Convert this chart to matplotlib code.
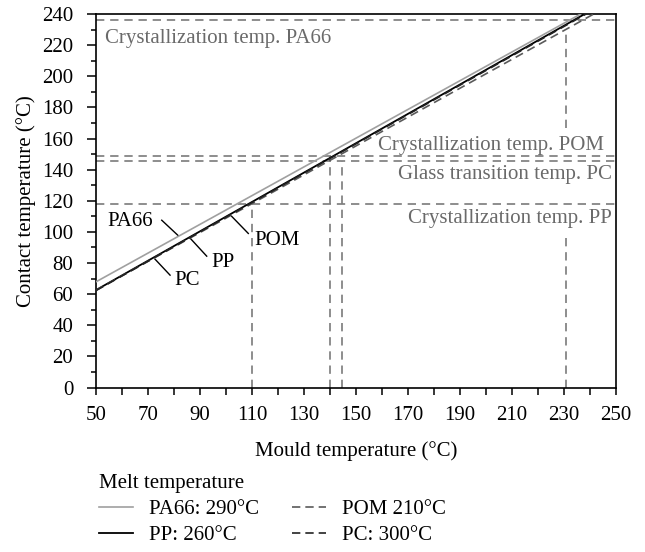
import matplotlib
matplotlib.use("Agg")
import matplotlib.pyplot as plt
from matplotlib.ticker import MultipleLocator

plt.rcParams['font.family'] = ['Liberation Serif', 'DejaVu Serif']
plt.rcParams['font.size'] = 15

# mould temperature end points and contact temperature of each material
mould = [50, 250]
pa66 = [67.9, 252.5]
pp = [62.6, 251.3]
pom = [62.5, 247.9]
pc = [62.3, 250.8]

xticks = [50, 70, 90, 110, 130, 150, 170, 190, 210, 230, 250]
yticks = [0, 20, 40, 60, 80, 100, 120, 140, 160, 180, 200, 220, 240]

# reference temperatures (horizontal dashed lines)
ref_temps = [236, 148.5, 145.5, 118]
ref_labels = ["Crystallization temp. PA66", "Crystallization temp. POM",
              "Glass transition temp. PC", "Crystallization temp. PP"]
ref_label_x = [53.5, 245.5, 248.5, 248.5]
ref_label_y = [224.5, 155.5, 137, 108.5]
ref_label_ha = ["left", "right", "right", "right"]

# vertical dashed segments: x, y from, y to
vert_x = [110, 140, 144.5, 231, 231]
vert_y0 = [0, 0, 0, 0, 167]
vert_y1 = [118, 148.5, 145.5, 99, 229]

# curve labels: text, text position, leader start, leader end
curve_names = ["PA66", "PP", "POM", "PC"]
curve_text_xy = [(63, 106.5), (99, 80.5), (119.5, 94.5), (85, 69)]
leader_from = [(75.3, 107.5), (92.6, 84.4), (108.6, 99.0), (78.5, 72.2)]
leader_to = [(81.7, 97.5), (86.2, 96.0), (102.2, 110.0), (72.7, 82.5)]

legend_labels = ["PA66: 290°C", "PP: 260°C", "POM 210°C", "PC: 300°C"]

fig = plt.figure(figsize=(6.45, 5.52), dpi=100)
ax = fig.add_axes([0.1488, 0.298, 0.806, 0.6766])

ref_col = "#7a7a7a"
for t in ref_temps:
    ax.axhline(t, color=ref_col, lw=1.2, ls=(0, (5, 3.5)), zorder=1)
for x, y0, y1 in zip(vert_x, vert_y0, vert_y1):
    ax.plot([x, x], [y0, y1], color=ref_col, lw=1.2, ls=(0, (5, 3.5)), zorder=1)

for lab, x, y, ha in zip(ref_labels, ref_label_x, ref_label_y, ref_label_ha):
    ax.text(x, y, lab, ha=ha, va="center", color="#6a6a6a")

l1, = ax.plot(mould, pa66, color="#a0a0a0", lw=1.2, zorder=3)
l2, = ax.plot(mould, pp, color="black", lw=1.3, zorder=3)
l3, = ax.plot(mould, pom, color="#5a5a5a", lw=1.2, ls=(0, (5, 3)), zorder=3)
l4, = ax.plot(mould, pc, color="#222222", lw=1.2, ls=(0, (5, 3)), zorder=4)

for name, txy, p0, p1 in zip(curve_names, curve_text_xy, leader_from, leader_to):
    ax.text(txy[0], txy[1], name, ha="center", va="center")
    ax.plot([p0[0], p1[0]], [p0[1], p1[1]], color="black", lw=1.0)

ax.set_xlim(50, 250)
ax.set_ylim(0, 240)
ax.set_xticks(xticks)
ax.set_yticks(yticks)
ax.xaxis.set_minor_locator(MultipleLocator(10))
ax.yaxis.set_minor_locator(MultipleLocator(10))
ax.tick_params(axis="x", which="both", direction="out", length=5, width=1.1, pad=8)
ax.tick_params(axis="y", which="major", direction="out", length=6.3, width=1.1, pad=10)
ax.tick_params(axis="y", which="minor", direction="out", length=3.5, width=1.1)
for s in ax.spines.values():
    s.set_linewidth(1.2)

ax.set_xlabel("Mould temperature (°C)", labelpad=12)
ax.set_ylabel("Contact temperature (°C)", labelpad=4.5)

leg = fig.legend([l1, l2, l3, l4], legend_labels, title="Melt temperature",
                 ncol=2, frameon=False, loc="upper left",
                 bbox_to_anchor=(0.153, 0.142), handlelength=1.65,
                 handletextpad=0.75, columnspacing=1.6, labelspacing=0.32,
                 borderaxespad=0, borderpad=0)
leg._legend_box.align = "left"

fig.savefig("out.png", dpi=100)
